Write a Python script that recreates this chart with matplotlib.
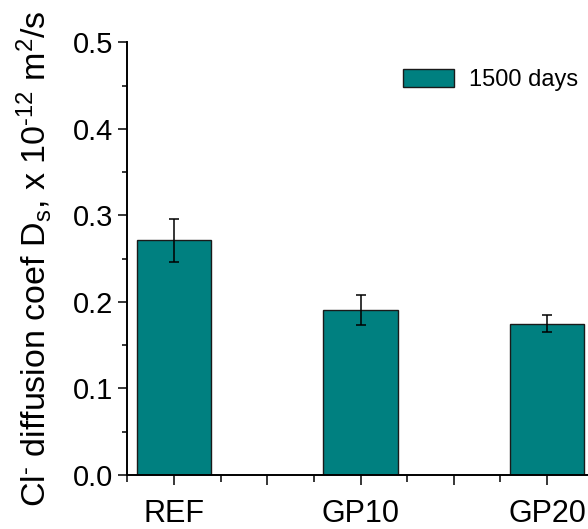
import matplotlib
matplotlib.use("Agg")
import matplotlib.pyplot as plt
from matplotlib.ticker import MultipleLocator, FixedLocator

plt.rcParams['font.family'] = ['Liberation Sans', 'DejaVu Sans']
plt.rcParams['mathtext.fontset'] = 'custom'
plt.rcParams['mathtext.rm'] = 'Liberation Sans'
plt.rcParams['mathtext.it'] = 'Liberation Sans'
plt.rcParams['mathtext.default'] = 'regular'

categories = ['REF', 'GP10', 'GP20']
values = [0.271, 0.191, 0.175]
errors = [0.025, 0.0175, 0.0098]
series_label = '1500 days'

fig = plt.figure(figsize=(5.88, 5.29), dpi=100)
ax = fig.add_axes([127.4 / 588, 54 / 529, 466.3 / 588, 432.7 / 529])

pos = [1, 2, 3]
ax.bar(pos, values, width=0.4, color='#008080', edgecolor='#1a1a1a',
       linewidth=1.0, label=series_label, zorder=2)
ax.errorbar(pos, values, yerr=errors, fmt='none', ecolor='black',
            elinewidth=1.1, capsize=3.8, capthick=1.1, zorder=3)

ax.set_xlim(0.75, 3.25)
ax.set_ylim(0, 0.5)

ax.spines['top'].set_visible(False)
ax.spines['right'].set_visible(False)
for s in ('left', 'bottom'):
    ax.spines[s].set_linewidth(1.4)

ax.xaxis.set_major_locator(FixedLocator([1, 1.5, 2, 2.5, 3]))
ax.set_xticklabels([categories[0], '', categories[1], '', categories[2]])
ax.xaxis.set_minor_locator(FixedLocator([0.75, 1.25, 1.75, 2.25, 2.75, 3.25]))
ax.yaxis.set_major_locator(MultipleLocator(0.1))
ax.yaxis.set_minor_locator(MultipleLocator(0.05))
ax.yaxis.set_major_formatter(matplotlib.ticker.FormatStrFormatter('%.1f'))

ax.tick_params(axis='x', which='major', direction='out', length=7, width=1.1,
               labelsize=22, pad=10.5)
ax.tick_params(axis='x', which='minor', direction='out', length=4.8, width=1.1)
ax.tick_params(axis='y', which='major', direction='out', length=6.5, width=1.1,
               labelsize=21, pad=3.5)
ax.tick_params(axis='y', which='minor', direction='out', length=3.3, width=1.1)

ax.set_ylabel(r'Cl$^{\text{-}}$ diffusion coef D$_{s}$, x 10$^{\text{-}12}$ m$^{2}$/s',
              fontsize=24.5)
ax.yaxis.set_label_coords(-0.158, 0.5)

ax.legend(loc='center left', bbox_to_anchor=(0.590, 0.912), frameon=False,
          fontsize=17, handlelength=2.2, handleheight=0.8, handletextpad=0.6,
          borderpad=0, borderaxespad=0)

fig.savefig('out.png', dpi=100)
